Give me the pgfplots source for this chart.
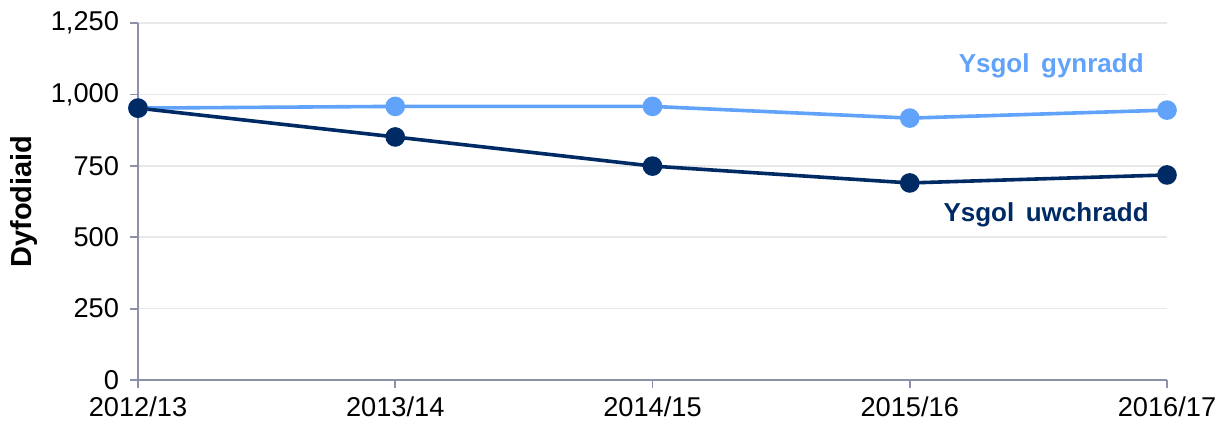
\documentclass[border=0pt]{standalone}
\usepackage{fontspec}
\setmainfont{Liberation Sans}
\usepackage{pgfplots}
\pgfplotsset{compat=1.18}
\definecolor{lightser}{RGB}{97,162,250}
\definecolor{darkser}{RGB}{0,42,100}
\definecolor{axcol}{RGB}{140,145,168}
\definecolor{gridcol}{RGB}{232,232,232}
\begin{document}
\begin{tikzpicture}
\useasboundingbox (-69pt,-22.5pt) rectangle (542.5pt,190pt);
\begin{axis}[
  at={(0pt,0pt)}, anchor=south west,
  scale only axis, width=514.5pt, height=178.5pt,
  xmin=0, xmax=4, ymin=0, ymax=1250,
  axis x line*=bottom, axis y line*=left,
  axis line style={axcol, line width=0.9pt},
  xtick={0,1,2,3,4},
  xticklabels={2012/13,2013/14,2014/15,2015/16,2016/17},
  ytick={0,250,500,750,1000,1250},
  tick style={axcol, line width=0.9pt},
  tick align=outside, major tick length=4pt,
  ymajorgrids, grid style={gridcol, line width=0.8pt},
  tick label style={font=\fontsize{13.6}{15}\selectfont, text=black},
  /pgf/number format/assume math mode=true,
  /pgf/number format/1000 sep={,},
  xticklabel style={yshift=-1pt},
  yticklabel style={xshift=-2pt},
  every axis y label/.style={at={(ticklabel cs:0.5)}, rotate=90, anchor=south, font=\fontsize{14.5}{16}\selectfont\bfseries},
  ylabel={Dyfodiaid},
  clip=false,
]
\addplot[lightser, line width=1.8pt, mark=*, mark size=4pt, mark options={fill=lightser, draw=lightser}]
  coordinates {(0,952) (1,958) (2,958) (3,917) (4,945)};
\addplot[darkser, line width=1.8pt, mark=*, mark size=4pt, mark options={fill=darkser, draw=darkser}]
  coordinates {(0,952) (1,851) (2,749) (3,690) (4,718)};
\node[text=lightser, font=\fontsize{13}{15}\selectfont\bfseries] at (axis cs:3.55,1099) {Ysgol\, gynradd};
\node[text=darkser, font=\fontsize{13}{15}\selectfont\bfseries] at (axis cs:3.53,578) {Ysgol\, uwchradd};
\end{axis}
\end{tikzpicture}
\end{document}
